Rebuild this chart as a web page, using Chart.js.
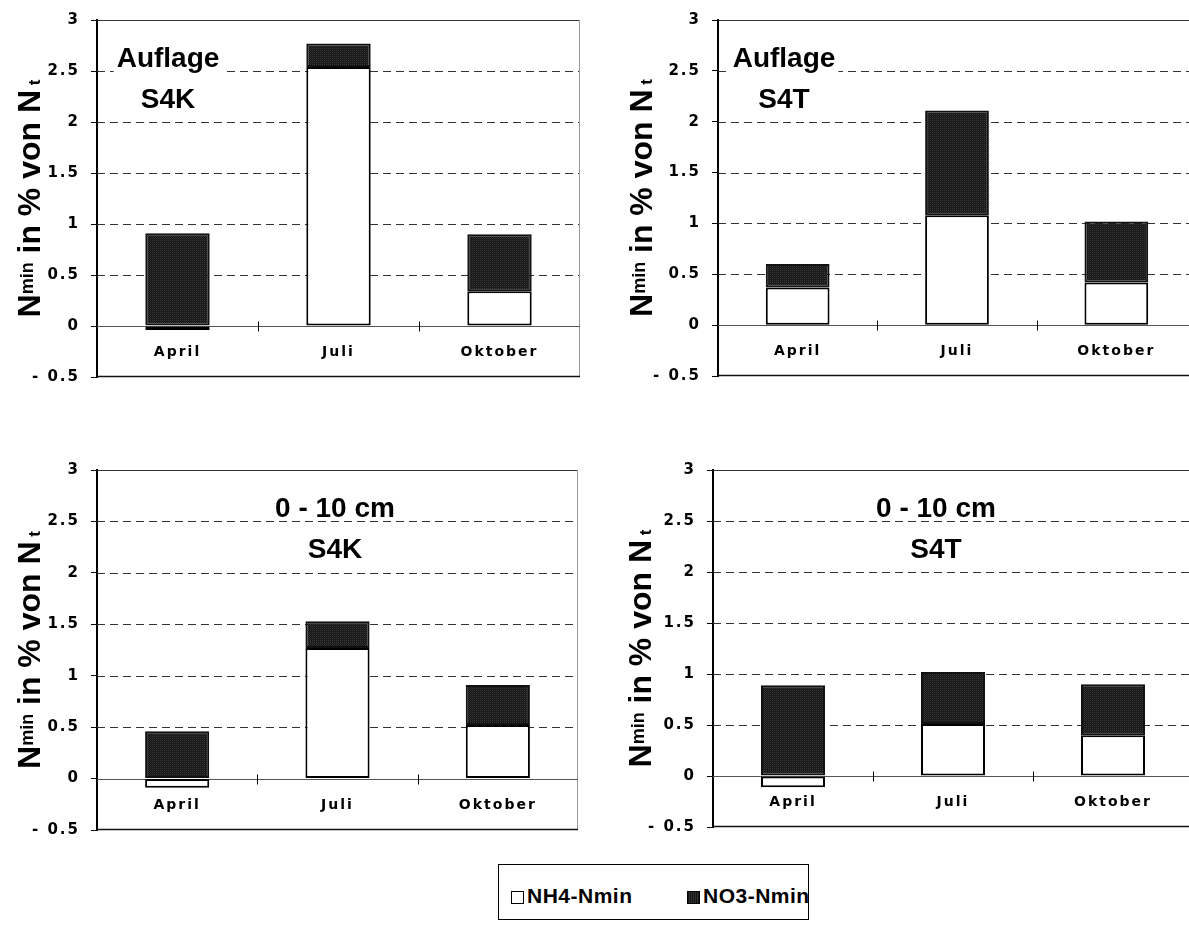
<!DOCTYPE html>
<html lang="de">
<head>
<meta charset="utf-8">
<title>Nmin in % von Nt</title>
<script src="https://cdn.jsdelivr.net/npm/chart.js@4.4.1/dist/chart.umd.min.js"></script>
<style>
  html, body { margin: 0; padding: 0; background: #fff; overflow: hidden; }
  body { width: 1189px; height: 925px; position: relative; }
  .panel { position: absolute; width: 600px; height: 400px; }
  .panel canvas { display: block; }
  #legend {
    position: absolute; left: 498px; top: 864px; width: 311px; height: 56px;
    border: 1px solid #000; box-sizing: border-box; background: #fff;
    font-family: 'Liberation Sans', Arial, sans-serif; font-weight: bold;
    font-size: 21px; letter-spacing: 0.5px; color: #000;
  }
  #legend .item { position: absolute; top: 18px; height: 26px; line-height: 26px; white-space: nowrap; }
  #legend .sw {
    display: inline-block; width: 13px; height: 13px; box-sizing: border-box;
    border: 1px solid #000; margin-right: 3px; vertical-align: -1px;
  }
</style>
</head>
<body>
<div class="panel" style="left:0;top:0"><canvas id="pTL" width="600" height="400"></canvas></div>
<div class="panel" style="left:620px;top:0"><canvas id="pTR" width="600" height="400"></canvas></div>
<div class="panel" style="left:0;top:450px"><canvas id="pBL" width="600" height="400"></canvas></div>
<div class="panel" style="left:620px;top:450px"><canvas id="pBR" width="600" height="400"></canvas></div>
<div id="legend"></div>

<script>
const categories = ['April', 'Juli', 'Oktober'];
const seriesNames = ['NH4-Nmin', 'NO3-Nmin'];
const yMin = -0.5;
const yMax = 3;
const yStep = 0.5;

// Auflage, S4K
const auflageS4K_NH4 = [-0.04, 2.54, 0.34];
const auflageS4K_NO3 = [0.91, 0.23, 0.56];
// Auflage, S4T
const auflageS4T_NH4 = [0.37, 1.08, 0.42];
const auflageS4T_NO3 = [0.23, 1.03, 0.60];
// 0 - 10 cm, S4K
const topsoilS4K_NH4 = [-0.09, 1.27, 0.52];
const topsoilS4K_NO3 = [0.46, 0.26, 0.39];
// 0 - 10 cm, S4T
const topsoilS4T_NH4 = [-0.11, 0.51, 0.40];
const topsoilS4T_NO3 = [0.89, 0.51, 0.50];

const panelTitles = [
  ['Auflage', 'S4K'],
  ['Auflage', 'S4T'],
  ['0 - 10 cm', 'S4K'],
  ['0 - 10 cm', 'S4T']
];

const FONT = "'Liberation Sans', Arial, sans-serif";
const TICK_FONT = "'DejaVu Sans', 'Liberation Sans', sans-serif";

// layout of the four panels
const panels = [
  { canvas: 'pTL', nh4: auflageS4K_NH4, no3: auflageS4K_NO3, title: panelTitles[0], axisWidth: 97, pad: { top: 16, bottom: 23, right: 20 }, titleX: 71, titleBox: true, yTitleX: 57 },
  { canvas: 'pTR', nh4: auflageS4T_NH4, no3: auflageS4T_NO3, title: panelTitles[1], axisWidth: 98, pad: { top: 16, bottom: 24, right: 24 }, titleX: 66, titleBox: true, yTitleX: 66 },
  { canvas: 'pBL', nh4: topsoilS4K_NH4, no3: topsoilS4K_NO3, title: panelTitles[2], axisWidth: 97, pad: { top: 19, bottom: 20, right: 22 }, titleX: 238, titleBox: false, yTitleX: 57 },
  { canvas: 'pBR', nh4: topsoilS4T_NH4, no3: topsoilS4T_NO3, title: panelTitles[3], axisWidth: 93, pad: { top: 19, bottom: 23, right: 27 }, titleX: 223, titleBox: false, yTitleX: 62 }
];

// fine stippled dark fill used for the nitrate bars
function stipple(ctx) {
  const tile = document.createElement('canvas');
  tile.width = 2; tile.height = 2;
  const g = tile.getContext('2d');
  g.fillStyle = '#141414';
  g.fillRect(0, 0, 2, 2);
  g.fillStyle = '#3a3a3a';
  g.fillRect(0, 0, 1, 1);
  g.fillStyle = '#262626';
  g.fillRect(1, 1, 1, 1);
  return ctx.createPattern(tile, 'repeat');
}

function line(ctx, x1, y1, x2, y2) {
  ctx.beginPath();
  ctx.moveTo(x1, y1);
  ctx.lineTo(x2, y2);
  ctx.stroke();
}

// dashed grid, frame, zero line and category separators
const framePlugin = {
  id: 'frame',
  beforeDraw(chart) {
    chart.ctx.letterSpacing = '2px';
  },
  beforeDatasetsDraw(chart) {
    const { ctx, chartArea: a, scales: { x, y } } = chart;
    ctx.save();
    ctx.lineWidth = 1;
    ctx.strokeStyle = '#333';
    ctx.setLineDash([8, 5]);
    y.ticks.forEach(t => {
      if (t.value === yMin || t.value === yMax || t.value === 0) return;
      const py = Math.round(y.getPixelForValue(t.value)) + 0.5;
      line(ctx, a.left, py, a.right, py);
    });
    ctx.setLineDash([]);
    const top = Math.round(y.getPixelForValue(yMax)) + 0.5;
    line(ctx, a.left, top, a.right, top);
    ctx.strokeStyle = '#999';
    line(ctx, Math.round(a.right) - 0.5, a.top, Math.round(a.right) - 0.5, a.bottom);
    ctx.strokeStyle = '#111';
    ctx.lineWidth = 1.5;
    const bottom = Math.round(y.getPixelForValue(yMin)) - 0.5;
    line(ctx, a.left, bottom, a.right, bottom);
    ctx.lineWidth = 1;
    ctx.strokeStyle = '#555';
    const zero = Math.round(y.getPixelForValue(0)) + 0.5;
    line(ctx, a.left, zero, a.right, zero);
    ctx.strokeStyle = '#000';
    for (let i = 0; i < categories.length - 1; i++) {
      const px = Math.round((x.getPixelForValue(i) + x.getPixelForValue(i + 1)) / 2) + 0.5;
      line(ctx, px, zero - 5, px, zero + 5);
    }
    ctx.restore();
  },
  afterDatasetsDraw(chart, args, opts) {
    const { ctx, chartArea: a } = chart;
    ctx.save();
    ctx.letterSpacing = '0px';
    ctx.font = 'bold 28px ' + FONT;
    ctx.textAlign = 'center';
    ctx.textBaseline = 'alphabetic';
    const cx = a.left + opts.x;
    const base = [a.top + 47, a.top + 88];
    if (opts.box) {
      const w = Math.max(...opts.lines.map(s => ctx.measureText(s).width)) + 6;
      ctx.fillStyle = '#fff';
      ctx.fillRect(cx - w / 2, base[0] - 24, w, base[1] - base[0] + 32);
    }
    ctx.fillStyle = '#000';
    opts.lines.forEach((s, i) => ctx.fillText(s, cx, base[i]));
    ctx.restore();
  },
  afterDraw(chart, args, opts) {
    // rotated axis title: N_min in % von N_t
    const { ctx, chartArea: a } = chart;
    const parts = [
      { t: 'N', size: 32, dy: 0 },
      { t: 'min', size: 18, dy: -7 },
      { t: ' in % von N', size: 32, dy: 0 },
      { t: ' t', size: 17, dy: 0 }
    ];
    ctx.save();
    ctx.letterSpacing = '0px';
    let total = 0;
    parts.forEach(p => {
      ctx.font = 'bold ' + p.size + 'px ' + FONT;
      p.w = ctx.measureText(p.t).width;
      total += p.w;
    });
    ctx.translate(a.left - opts.yTitleX, (a.top + a.bottom) / 2);
    ctx.rotate(-Math.PI / 2);
    ctx.fillStyle = '#000';
    ctx.textBaseline = 'alphabetic';
    ctx.textAlign = 'left';
    let px = -total / 2;
    parts.forEach(p => {
      ctx.font = 'bold ' + p.size + 'px ' + FONT;
      ctx.fillText(p.t, px, p.dy);
      px += p.w;
    });
    ctx.restore();
  }
};

const charts = panels.map(p => {
  const ctx = document.getElementById(p.canvas).getContext('2d');
  return new Chart(ctx, {
    type: 'bar',
    data: {
      labels: categories,
      datasets: [
        {
          label: seriesNames[0],
          data: p.nh4,
          backgroundColor: '#fff',
          borderColor: '#000',
          borderWidth: 2,
          borderSkipped: false,
          barPercentage: 0.4,
          categoryPercentage: 1
        },
        {
          label: seriesNames[1],
          data: p.no3,
          backgroundColor: stipple(ctx),
          borderColor: '#111',
          borderWidth: 2,
          borderSkipped: false,
          barPercentage: 0.4,
          categoryPercentage: 1
        }
      ]
    },
    options: {
      responsive: false,
      animation: false,
      devicePixelRatio: 1,
      layout: { padding: { left: 0, top: p.pad.top, bottom: p.pad.bottom, right: p.pad.right } },
      plugins: {
        legend: { display: false },
        tooltip: { enabled: false },
        frame: { lines: p.title, x: p.titleX, box: p.titleBox, yTitleX: p.yTitleX }
      },
      scales: {
        x: {
          type: 'category',
          stacked: true,
          offset: true,
          position: { y: 0 },
          grid: { display: false, drawTicks: false },
          border: { display: false },
          ticks: {
            padding: 18,
            color: '#000',
            maxRotation: 0,
            autoSkip: false,
            font: { family: TICK_FONT, size: 14, weight: 'bold' }
          }
        },
        y: {
          type: 'linear',
          stacked: true,
          min: yMin,
          max: yMax,
          afterFit: s => { s.width = p.axisWidth; },
          border: { display: true, color: '#000', width: 2 },
          grid: { drawOnChartArea: false, drawTicks: true, tickLength: 6, color: '#000', lineWidth: 1 },
          ticks: {
            stepSize: yStep,
            padding: 11,
            color: '#000',
            font: { family: TICK_FONT, size: 15, weight: 'bold' },
            callback: v => (v < 0 ? '- ' + Math.abs(v) : String(v))
          }
        }
      }
    },
    plugins: [framePlugin]
  });
});

// shared legend built from the dataset labels
const legend = document.getElementById('legend');
const legendX = [12, 188];
charts[0].data.datasets.forEach((ds, i) => {
  const item = document.createElement('span');
  item.className = 'item';
  item.style.left = legendX[i] + 'px';
  const sw = document.createElement('i');
  sw.className = 'sw';
  sw.style.background = i === 0 ? '#fff' : 'repeating-linear-gradient(90deg, #141414 0 1px, #333 1px 2px)';
  item.appendChild(sw);
  item.appendChild(document.createTextNode(ds.label));
  legend.appendChild(item);
});
</script>
</body>
</html>
